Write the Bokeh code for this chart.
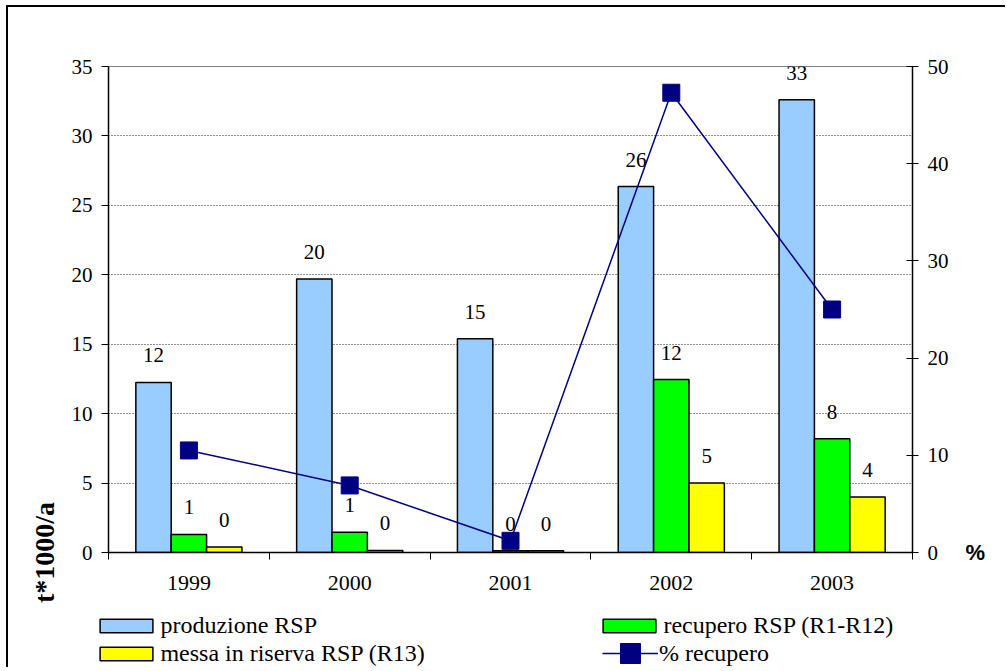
from bokeh.plotting import figure
from bokeh.models import (ColumnDataSource, Range1d, LinearAxis, FixedTicker,
                          Legend, LegendItem, LabelSet)
from bokeh.embed import file_html
from bokeh.resources import INLINE

# ---- data -------------------------------------------------------------
years = [1999, 2000, 2001, 2002, 2003]
produzione = [12.25, 19.7, 15.4, 26.35, 32.6]
recupero = [1.3, 1.45, 0.12, 12.45, 8.2]
riserva = [0.4, 0.15, 0.12, 5.0, 4.0]
perc_recupero = [10.5, 6.9, 1.2, 47.3, 25.0]
series_names = ["produzione RSP", "recupero RSP (R1-R12)",
                "messa in riserva RSP (R13)", "% recupero"]
left_ticks = [0, 5, 10, 15, 20, 25, 30, 35]
right_ticks = [0, 10, 20, 30, 40, 50]
left_title = "t*1000/a"
right_title = "%"

# ---- style --------------------------------------------------------------
SERIF = "'Liberation Serif'"
colors = ["#99CCFF", "#00FF00", "#FFFF00"]
navy = "#000080"
bar_w = 0.22
offsets = [-bar_w, 0.0, bar_w]
bar_series = [produzione, recupero, riserva]

p = figure(width=999, height=600, output_backend="svg", toolbar_location=None,
           x_range=Range1d(years[0] - 0.5, years[-1] + 0.5),
           y_range=Range1d(left_ticks[0], left_ticks[-1]),
           min_border_left=100, min_border_right=95, min_border_top=59,
           min_border_bottom=55)
p.styles = {"margin-left": "6px", "margin-top": "5px",
            "border-left": "2px solid black", "border-top": "2px solid black"}
p.background_fill_color = "white"
p.border_fill_color = "white"
p.outline_line_color = "#808080"
p.outline_line_width = 1
p.extra_y_ranges = {"pct": Range1d(right_ticks[0], right_ticks[-1])}

# x axis
xa = p.xaxis[0]
xa.ticker = FixedTicker(ticks=years,
                        minor_ticks=[y - 0.5 for y in years] + [years[-1] + 0.5])
xa.major_tick_line_color = None
xa.major_tick_out = 7
xa.major_tick_in = 0
xa.minor_tick_line_color = "black"
xa.minor_tick_out = 7
xa.minor_tick_in = 0
xa.axis_line_color = "black"
xa.axis_line_width = 1.5
xa.major_label_text_font = SERIF
xa.major_label_text_font_size = "22px"
xa.major_label_text_color = "black"
xa.major_label_standoff = 16

# left axis
ya = p.yaxis[0]
ya.ticker = FixedTicker(ticks=left_ticks)
ya.minor_tick_line_color = None
ya.major_tick_out = 7
ya.major_tick_in = 0
ya.major_tick_line_color = "black"
ya.axis_line_color = "black"
ya.axis_line_width = 1.5
ya.major_label_text_font = SERIF
ya.major_label_text_font_size = "21px"
ya.major_label_text_color = "black"
ya.major_label_standoff = 9
ya.axis_label = left_title
ya.axis_label_text_font = SERIF
ya.axis_label_text_font_style = "bold"
ya.axis_label_text_font_size = "28px"
ya.axis_label_text_color = "black"
ya.axis_label_standoff = 9

# right axis
ra = LinearAxis(y_range_name="pct", ticker=FixedTicker(ticks=right_ticks))
ra.minor_tick_line_color = None
ra.major_tick_out = 6
ra.major_tick_in = 6
ra.major_tick_line_color = "black"
ra.axis_line_color = "black"
ra.axis_line_width = 1.5
ra.major_label_text_font = SERIF
ra.major_label_text_font_size = "21px"
ra.major_label_text_color = "black"
ra.major_label_standoff = 9
ra.axis_label = right_title
ra.axis_label_text_font = "'Liberation Sans'"
ra.axis_label_text_font_style = "bold"
ra.axis_label_text_font_size = "22px"
ra.axis_label_text_color = "black"
ra.axis_label_standoff = 14
try:
    ra.axis_label_orientation = "horizontal"
except Exception:
    pass
for ax in (ya, ra):
    try:
        ax.axis_label_align = "start"
    except Exception:
        pass
p.add_layout(ra, "right")

p.xgrid.grid_line_color = None
p.ygrid.ticker = FixedTicker(ticks=left_ticks[1:-1])
p.ygrid.grid_line_color = "#222222"
p.ygrid.grid_line_dash = "1 2"
p.ygrid.grid_line_width = 1

# ---- bars ---------------------------------------------------------------
for vals, col, off in zip(bar_series, colors, offsets):
    src = ColumnDataSource(dict(x=[y + off for y in years], top=vals,
                                lab=["%d" % int(v + 0.5) for v in vals]))
    p.vbar(x="x", top="top", width=bar_w, bottom=0, source=src,
           fill_color=col, line_color="black", line_width=1.5)
    p.add_layout(LabelSet(x="x", y="top", text="lab", source=src,
                          y_offset=27, text_align="center",
                          text_baseline="middle", text_font=SERIF,
                          text_font_size="21px", text_color="black"))

# ---- line ---------------------------------------------------------------
p.line(years, perc_recupero, y_range_name="pct", line_color=navy, line_width=1.5)
p.scatter(years, perc_recupero, y_range_name="pct", marker="square",
          size=17, fill_color=navy, line_color=navy)

# ---- legend strip: same series & styles, drawn outside its own view -------
lp = figure(width=999, height=62, output_backend="svg", toolbar_location=None,
            x_range=Range1d(0, 1), y_range=Range1d(0, 1),
            x_axis_location=None, y_axis_location=None,
            min_border=0, outline_line_color=None)
lp.styles = {"margin-left": "6px", "border-left": "2px solid black"}
lp.grid.visible = False
swatches = [lp.vbar(x=years, top=vals, width=bar_w, fill_color=c,
                    line_color="black", line_width=1.5)
            for vals, c in zip(bar_series, colors)]
leg_line = lp.line(years, perc_recupero, line_color=navy, line_width=1.5)
leg_mark = lp.scatter(years, perc_recupero, marker="square", size=17,
                      fill_color=navy, line_color=navy)


def add_legend(items, loc, gw, gh):
    lg = Legend(items=items, location=loc, orientation="vertical",
                glyph_width=gw, glyph_height=gh, label_standoff=1,
                label_height=28, spacing=0, padding=0, margin=0,
                border_line_color=None, background_fill_alpha=0,
                label_text_font=SERIF, label_text_font_size="24px",
                label_text_color="black")
    lp.add_layout(lg, "center")


add_legend([LegendItem(label=series_names[0], renderers=[swatches[0]]),
            LegendItem(label=series_names[2], renderers=[swatches[2]])],
           (85.4, 0), 66, 17)
add_legend([LegendItem(label=series_names[1], renderers=[swatches[1]])],
           (588.4, 28), 66, 17)
add_legend([LegendItem(label=series_names[3], renderers=[leg_line, leg_mark])],
           (594, -11), 56, 50)

open("out.html", "w").write(file_html([p, lp], INLINE))
